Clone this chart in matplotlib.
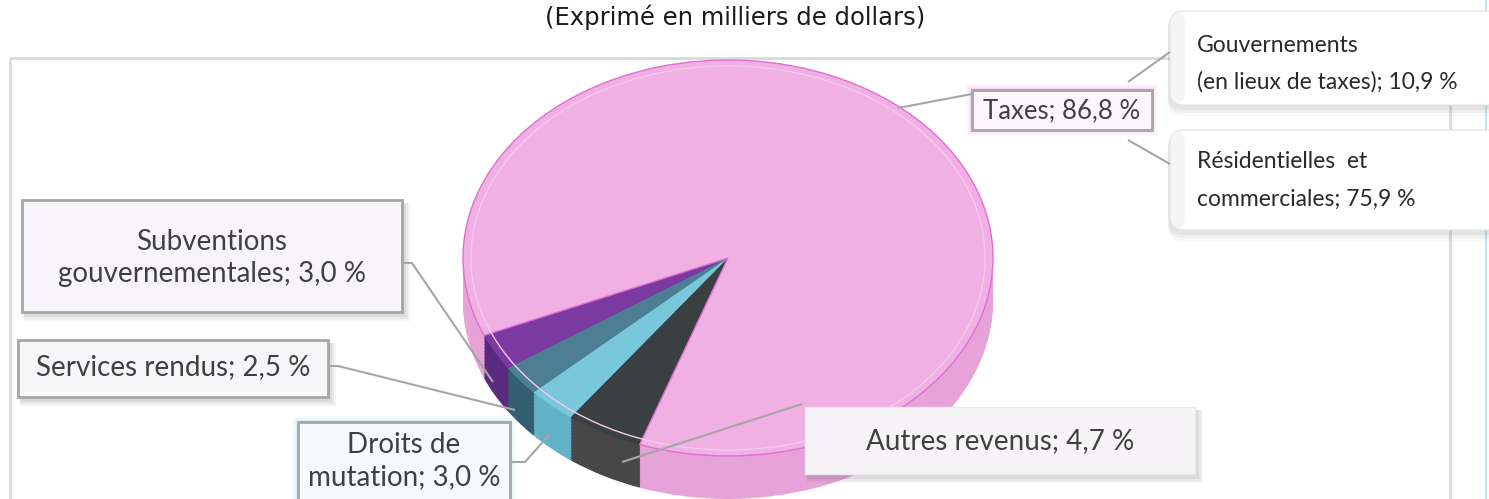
import matplotlib
matplotlib.use("Agg")
import matplotlib.pyplot as plt
from matplotlib import patches

# ---------------- data ----------------
categories = ["Subventions\ngouvernementales", "Services rendus", "Droits de\nmutation",
              "Autres revenus", "Taxes"]
values = [3.0, 2.5, 3.0, 4.7, 86.8]
tax_detail_labels = ["Gouvernements\n(en lieux de taxes)", "Résidentielles  et\ncommerciales"]
tax_detail_values = [10.9, 75.9]
title = "(Exprimé en milliers de dollars)"

top_colors = ["#7A3AA2", "#4C7E94", "#79C7DB", "#3A4042", "#F0B0E4"]
side_colors = ["#5A2A7E", "#335E72", "#62B2C8", "#474747", "#E7A2D8"]

def fmt(v):
    return f"{v:.1f}".replace(".", ",") + " %"

W, H = 1489, 499
fig = plt.figure(figsize=(W / 100, H / 100), dpi=100)

lab_font = "Lato"

# background / frame
bg = fig.add_axes([0, 0, 1, 1], zorder=0)
bg.set_xlim(0, W); bg.set_ylim(H, 0); bg.axis("off")
bg.plot([10, 10, 1450, 1450], [H + 5, 58, 58, H + 5], color="#D9D9D9", lw=2)
bg.plot([1486, 1486], [0, H], color="#C8E4EE", lw=1.5)

# ---------------- pie ----------------
cx_px, cy_px, a_px, b_px, depth_px = 728, 258, 265, 198, 43
pax = fig.add_axes([(cx_px - a_px) / W, 0, 2 * a_px / W, 1], zorder=2)
start = 203.0
nsteps = 30
for k in range(nsteps, -1, -1):
    off = depth_px / b_px * k / nsteps
    pax.pie(values, colors=side_colors, startangle=start, counterclock=True,
            center=(0, -off), radius=1.0,
            wedgeprops=dict(linewidth=0, antialiased=True))
wedges, _ = pax.pie(values, colors=top_colors, startangle=start, counterclock=True,
                    center=(0, 0), radius=1.0,
                    wedgeprops=dict(linewidth=0))
wedges[-1].set_edgecolor("#E070D2")
wedges[-1].set_linewidth(1.0)
pax.add_patch(patches.Ellipse((0, 0.0), 1.94, 1.94, fill=False, ec="#F6C8EE", lw=1.0, zorder=5))
pax.set_aspect("auto")
pax.set_xlim(-1, 1)
pax.set_ylim(-(H - cy_px) / b_px, cy_px / b_px)
pax.axis("off")

# ---------------- overlay (labels) ----------------
ov = fig.add_axes([0, 0, 1, 1], zorder=3)
ov.set_xlim(0, W); ov.set_ylim(H, 0); ov.axis("off")
ov.patch.set_alpha(0)

txt_color = "#404040"
line_color = "#A6A6A6"

def rect_box(x0, y0, x1, y1, fc="#F7F6F9", ec="#A6A6A6", glow=None, shadow=True, lw=2):
    if glow:
        for i, al in [(6, 0.10), (4, 0.15), (2, 0.25)]:
            ov.add_patch(patches.Rectangle((x0 - i, y0 - i), x1 - x0 + 2 * i, y1 - y0 + 2 * i,
                                           fc=glow, ec="none", alpha=al))
    if shadow:
        for i, al in [(6, 0.06), (4, 0.08), (2, 0.10)]:
            ov.add_patch(patches.Rectangle((x0 + 2, y0 + 3), x1 - x0 + i, y1 - y0 + i,
                                           fc="#606060", ec="none", alpha=al))
    ov.add_patch(patches.Rectangle((x0, y0), x1 - x0, y1 - y0, fc=fc, ec=ec, lw=lw))

def round_box(x0, y0, x1, y1):
    for i, al in [(8, 0.05), (5, 0.07), (2, 0.10)]:
        ov.add_patch(patches.FancyBboxPatch((x0 - 2, y0 + 3), x1 - x0 + 2, y1 - y0 + i,
                     boxstyle="round,pad=0,rounding_size=14", fc="#808080", ec="none", alpha=al))
    ov.add_patch(patches.FancyBboxPatch((x0, y0), x1 - x0, y1 - y0,
                 boxstyle="round,pad=0,rounding_size=14", fc="#FFFFFF", ec="#E6E6E6", lw=1))
    ov.add_patch(patches.FancyBboxPatch((x0 + 1, y0 + 1), 14, y1 - y0 - 2,
                 boxstyle="round,pad=0,rounding_size=12", fc="#EDEDED", ec="none", alpha=0.5))

def leader(xs, ys):
    ov.plot(xs, ys, color=line_color, lw=1.5, solid_capstyle="butt")

leader([402, 412, 493], [263, 263, 382])
leader([328, 338, 515], [366, 366, 410])
leader([510, 525, 550], [462, 462, 434])
leader([622, 802], [462, 404])
leader([898, 972], [108, 94])
leader([1128, 1170], [82, 52])
leader([1128, 1170], [140, 164])

kw = dict(color=txt_color, family=lab_font, fontweight="normal")
# Subventions
rect_box(22, 200, 402, 312, fc="#F7F5F9")
ov.text(212, 258, f"{categories[0]}; {fmt(values[0])}", ha="center", va="center",
        fontsize=20, linespacing=1.25, **kw)
# Services rendus
rect_box(18, 340, 328, 397, fc="#F7F6F9")
ov.text(173, 367, f"{categories[1]}; {fmt(values[1])}", ha="center", va="center",
        fontsize=20, **kw)
# Droits de mutation
rect_box(298, 422, 510, 503, fc="#F6FAFC", glow="#A8DCEB", shadow=False)
ov.text(404, 461, f"{categories[2]}; {fmt(values[2])}", ha="center", va="center",
        fontsize=20, linespacing=1.25, **kw)
# Autres revenus
rect_box(805, 407, 1195, 474, fc="#F6F4F6", ec="#E8E8E8", lw=1)
ov.text(1000, 441, f"{categories[3]}; {fmt(values[3])}", ha="center", va="center",
        fontsize=20, **kw)
# Taxes
rect_box(972, 90, 1152, 130, fc="#FDF6FC", glow="#F3A8E6", shadow=False)
ov.text(1062, 111, f"{categories[4]}; {fmt(values[4])}", ha="center", va="center",
        fontsize=18.5, **kw)

# Tax breakdown boxes
kw2 = dict(color="#2A2A2A", family=lab_font, fontsize=16.5, ha="left", va="center")
round_box(1170, 11, 1500, 105)
ov.text(1197, 45, tax_detail_labels[0].split("\n")[0], **kw2)
ov.text(1197, 82, tax_detail_labels[0].split("\n")[1] + "; " + fmt(tax_detail_values[0]), **kw2)
round_box(1170, 130, 1500, 230)
ov.text(1197, 162, tax_detail_labels[1].split("\n")[0], **kw2)
ov.text(1197, 199, tax_detail_labels[1].split("\n")[1] + "; " + fmt(tax_detail_values[1]), **kw2)

# Title
ov.text(735, 17, title, ha="center", va="center", fontsize=17.5, color="#1A1A1A",
        family="DejaVu Sans")

fig.savefig("out.png", dpi=100)
